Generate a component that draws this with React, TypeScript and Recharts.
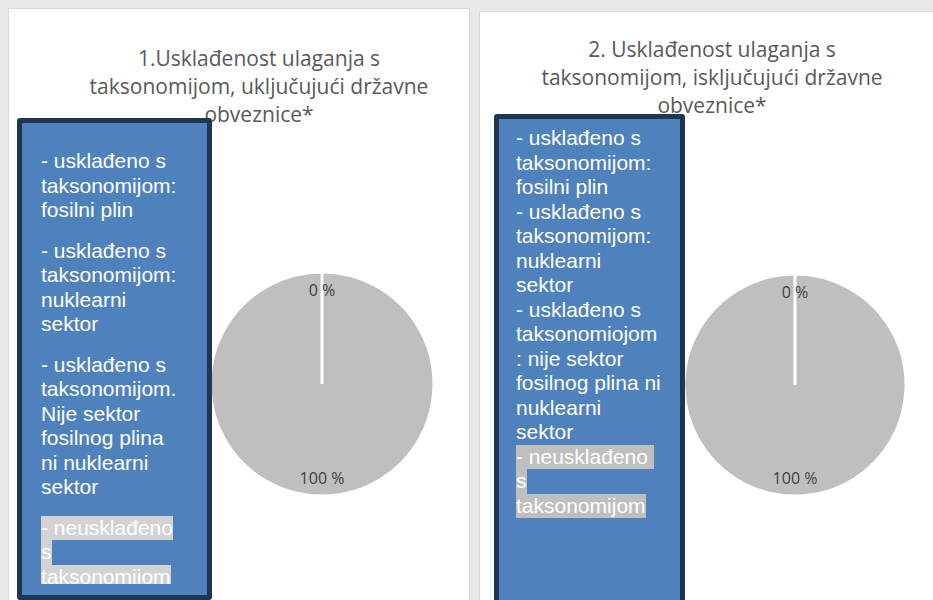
import { PieChart, Pie, Cell } from 'recharts';

const categories = ['fosilni plin', 'nuklearni sektor', 'ostalo usklađeno', 'neusklađeno'];
const sliceColors = ['#4f81bd', '#c0504d', '#9bbb59', '#bfbfbf'];

const values1 = [0, 0, 0, 100];
const values2 = [0, 0, 0, 100];

const title1 = ['1.Usklađenost ulaganja s', 'taksonomijom, uključujući državne', 'obveznice*'];
const title2 = ['2. Usklađenost ulaganja s', 'taksonomijom, isključujući državne', 'obveznice*'];

const legend1 = [
  ['- usklađeno s', 'taksonomijom:', 'fosilni plin'],
  ['- usklađeno s', 'taksonomijom:', 'nuklearni', 'sektor'],
  ['- usklađeno s', 'taksonomijom.', 'Nije sektor', 'fosilnog plina', 'ni nuklearni', 'sektor'],
  ['- neusklađeno', 's', 'taksonomijom'],
];
const legend2 = [
  ['- usklađeno s', 'taksonomijom:', 'fosilni plin'],
  ['- usklađeno s', 'taksonomijom:', 'nuklearni', 'sektor'],
  ['- usklađeno s', 'taksonomiojom', ': nije sektor', 'fosilnog plina ni', 'nuklearni', 'sektor'],
  ['- neusklađeno ', 's', 'taksonomijom'],
];

const RAD = Math.PI / 180;
const titleFont = '"Open Sans", Lato, sans-serif';

function renderLabel(props: any): React.ReactNode {
  const { cx, cy, midAngle, outerRadius, value, index } = props;
  if (value === 0 && index > 0) return null;
  const r = outerRadius * 0.84;
  const x = cx + r * Math.cos(-midAngle * RAD);
  const y = cy + r * Math.sin(-midAngle * RAD);
  return (
    <text x={x} y={y} fill="#404040" fontSize={16} fontFamily={titleFont} textAnchor="middle" dominantBaseline="central">
      {`${value} %`}
    </text>
  );
}

interface PanelProps {
  left: number;
  top: number;
  width: number;
  title: string[];
  titleCenter: number;
  titleTop: number;
  values: number[];
  legend: string[][];
  box: { left: number; top: number; width: number; height: number; padTop: number; padLeft: number; gap: number; clip: number };
  highlight: string;
  pie: { cx: number; cy: number; r: number };
}

function Panel(p: PanelProps): React.ReactNode {
  const height = 600 - p.top + 10;
  const data = categories.map((name, i) => ({ name, value: p.values[i] }));
  return (
    <div
      style={{
        position: 'absolute', left: p.left, top: p.top, width: p.width, height,
        background: '#ffffff', border: '1px solid #d9d9d9', boxSizing: 'border-box',
      }}
    >
      <div
        style={{
          position: 'absolute', left: p.titleCenter - 220, top: p.titleTop, width: 440,
          textAlign: 'center', fontFamily: titleFont, fontSize: 21, lineHeight: '28px', color: '#595959',
        }}
      >
        {p.title.map((t, i) => <div key={i}>{t}</div>)}
      </div>
      <div style={{ position: 'absolute', left: 0, top: 0 }}>
        <PieChart width={p.width} height={height - 2} margin={{ top: 0, right: 0, bottom: 0, left: 0 }}>
          <Pie
            data={data}
            dataKey="value"
            nameKey="name"
            cx={p.pie.cx}
            cy={p.pie.cy}
            outerRadius={p.pie.r}
            startAngle={90}
            endAngle={-270}
            stroke="#ffffff"
            strokeWidth={3}
            label={renderLabel}
            labelLine={false}
            isAnimationActive={false}
          >
            {data.map((d, i) => <Cell key={`cell-${i}`} fill={sliceColors[i]} />)}
          </Pie>
        </PieChart>
      </div>
      <div
        style={{
          position: 'absolute', left: p.box.left, top: p.box.top, width: p.box.width, height: p.box.height,
          background: '#4f81bd', border: '5px solid #1f3552', borderRadius: 3, boxSizing: 'border-box',
        }}
      >
        <div
          style={{
            height: p.box.clip, overflow: 'hidden', paddingTop: p.box.padTop, paddingLeft: p.box.padLeft,
            boxSizing: 'border-box', fontFamily: '"Liberation Sans", Arial, sans-serif', fontSize: 21,
            lineHeight: '24.5px', color: '#ffffff',
          }}
        >
          {p.legend.map((lines, gi) => {
            const last = gi === p.legend.length - 1;
            return (
              <div key={gi} style={{ marginBottom: p.box.gap }}>
                {lines.map((l, li) => (
                  <div key={li} style={{ whiteSpace: 'pre', height: 24.5 }}>
                    <span
                      style={{
                        display: 'inline-block', height: 24.5,
                        background: last ? p.highlight : 'transparent',
                      }}
                    >
                      {l}
                    </span>
                  </div>
                ))}
              </div>
            );
          })}
        </div>
      </div>
    </div>
  );
}

export default function App(): React.ReactNode {
  return (
    <div style={{ position: 'absolute', left: 0, top: 0, width: 933, height: 600, overflow: 'hidden', background: '#e8e8e8' }}>
      <Panel
        left={8}
        top={8}
        width={462}
        title={title1}
        titleCenter={250}
        titleTop={35}
        values={values1}
        legend={legend1}
        box={{ left: 8, top: 109, width: 195, height: 482, padTop: 26, padLeft: 19, gap: 16, clip: 461 }}
        highlight="#d3d3d3"
        pie={{ cx: 313, cy: 375, r: 112 }}
      />
      <Panel
        left={479}
        top={11}
        width={460}
        title={title2}
        titleCenter={232}
        titleTop={23}
        values={values2}
        legend={legend2}
        box={{ left: 14, top: 102, width: 191, height: 520, padTop: 7, padLeft: 17, gap: 0, clip: 510 }}
        highlight="#bfbfbf"
        pie={{ cx: 315, cy: 373, r: 111 }}
      />
    </div>
  );
}
